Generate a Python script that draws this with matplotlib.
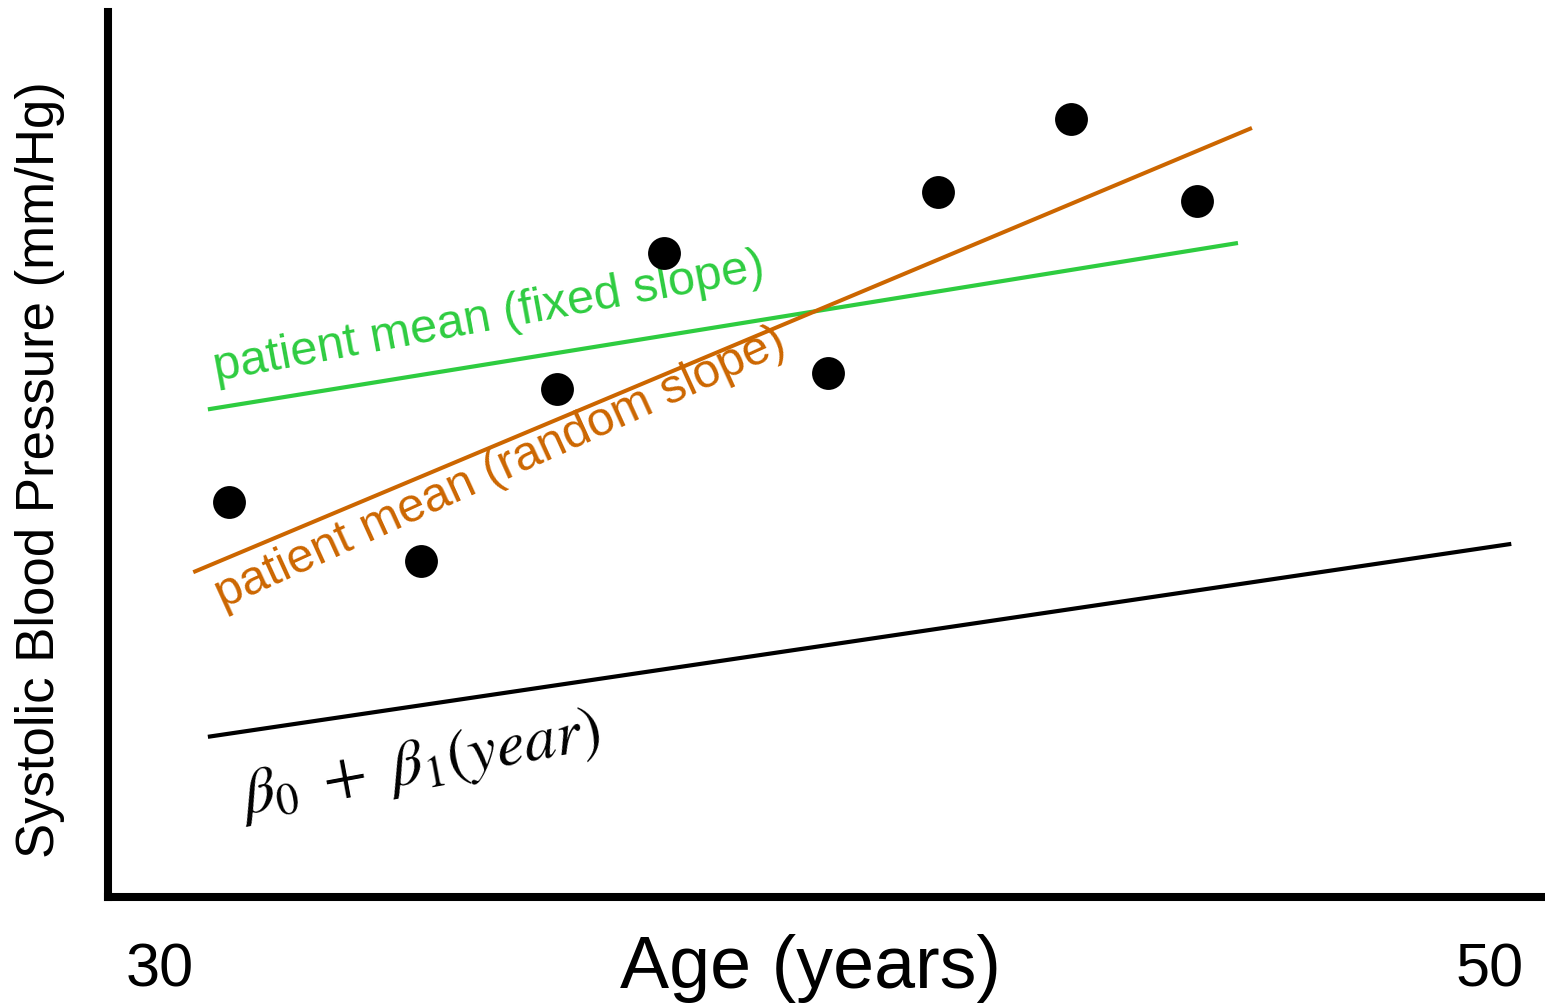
import matplotlib
matplotlib.use("Agg")
import matplotlib.pyplot as plt

plt.rcParams['font.family'] = ['Liberation Sans', 'DejaVu Sans']
plt.rcParams['mathtext.fontset'] = 'stix'

# data (age in years, blood pressure arbitrary units)
point_age = [31.04, 33.92, 35.97, 37.58, 40.05, 41.70, 43.70, 45.59]
point_bp = [44.6, 38.0, 57.4, 72.8, 59.2, 79.7, 87.9, 78.6]

fixed_age = [30.72, 46.21]
fixed_bp = [55.1, 73.9]
random_age = [30.50, 46.42]
random_bp = [36.7, 86.9]
pop_age = [30.72, 50.32]
pop_bp = [18.1, 39.9]

xtick_vals = [30, 50]
xtick_labels = ["30", "50"]

W, H = 1545, 1005
fig = plt.figure(figsize=(W / 100, H / 100), dpi=100)
ax = fig.add_axes([108 / W, (H - 897) / H, (W - 108) / W, (897 - 12) / H])
ax.set_xlim(29.218, 50.827)
ax.set_ylim(0, 100)
for s in ['top', 'right']:
    ax.spines[s].set_visible(False)
for s in ['left', 'bottom']:
    ax.spines[s].set_linewidth(5.8)
    ax.spines[s].set_capstyle('projecting')
ax.set_yticks([])
ax.set_xticks(xtick_vals)
ax.set_xticklabels(xtick_labels, fontsize=44)
ax.tick_params(axis='x', length=0, pad=33)

ax.plot(fixed_age, fixed_bp, color='#2ecc40', lw=3.0, solid_capstyle='butt')
ax.plot(random_age, random_bp, color='#cc6600', lw=2.9, solid_capstyle='butt')
ax.plot(pop_age, pop_bp, color='black', lw=3.0, solid_capstyle='butt')
ax.scatter(point_age, point_bp, s=560, color='black', zorder=5, linewidths=0)

ax.text(30.85, 58.3, "patient mean (fixed slope)", color='#2ecc40', fontsize=35,
        rotation=10.5, rotation_mode='anchor', ha='left', va='baseline')
ax.text(30.95, 32.6, "patient mean (random slope)", color='#cc6600', fontsize=35,
        rotation=24.5, rotation_mode='anchor', ha='left', va='baseline')
ax.text(31.25, 9.3, r"$\beta_0\ +\ \beta_1(year)$", color='black', fontsize=46,
        rotation=10.5, rotation_mode='anchor', ha='left', va='baseline')

fig.text(40 / W, 1 - 470 / H, "Systolic Blood Pressure (mm/Hg)", fontsize=38,
         rotation=90, ha='center', va='center')
fig.text(810 / W, 1 - 988 / H, "Age (years)", fontsize=53, ha='center', va='baseline')

fig.savefig("out.png", dpi=100)
